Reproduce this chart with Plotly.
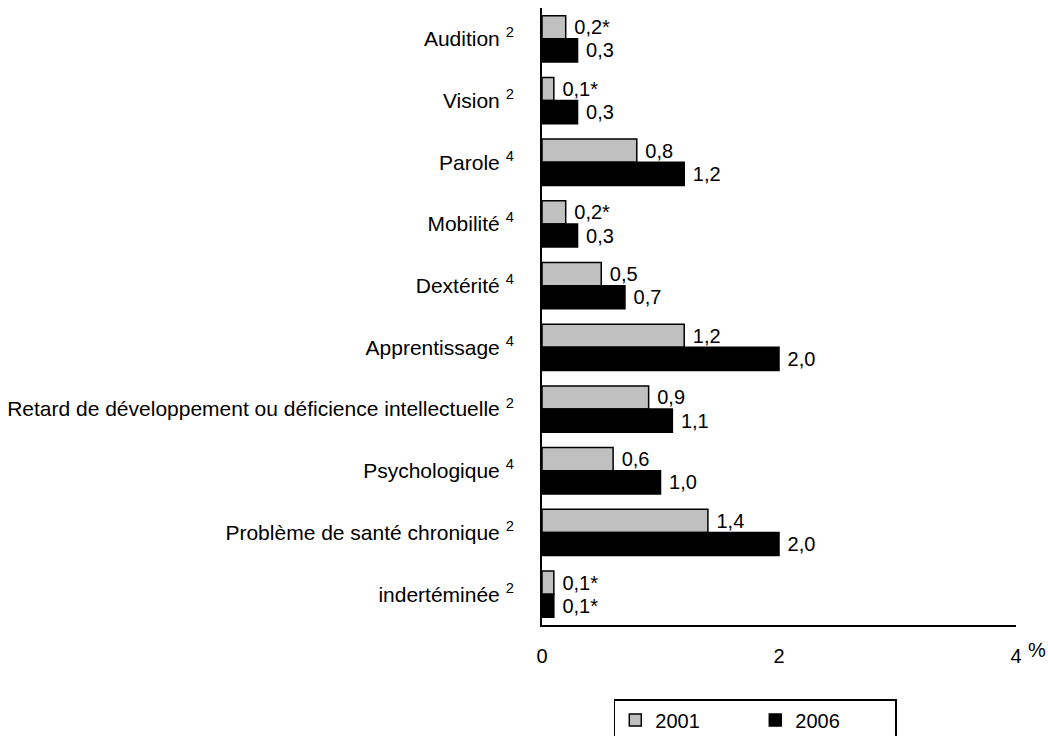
import plotly.graph_objects as go

# Catégories d'incapacité (avec renvoi en exposant)
categories = [
    "Audition <sup>2</sup>",
    "Vision <sup>2</sup>",
    "Parole <sup>4</sup>",
    "Mobilité <sup>4</sup>",
    "Dextérité <sup>4</sup>",
    "Apprentissage <sup>4</sup>",
    "Retard de développement ou déficience intellectuelle <sup>2</sup>",
    "Psychologique <sup>4</sup>",
    "Problème de santé chronique <sup>2</sup>",
    "indertéminée <sup>2</sup>",
]

# Taux (%) par année
values_2001 = [0.2, 0.1, 0.8, 0.2, 0.5, 1.2, 0.9, 0.6, 1.4, 0.1]
values_2006 = [0.3, 0.3, 1.2, 0.3, 0.7, 2.0, 1.1, 1.0, 2.0, 0.1]

# Étiquettes (astérisque = estimation à utiliser avec prudence)
labels_2001 = ["0,2*", "0,1*", "0,8", "0,2*", "0,5", "1,2", "0,9", "0,6", "1,4", "0,1*"]
labels_2006 = ["0,3", "0,3", "1,2", "0,3", "0,7", "2,0", "1,1", "1,0", "2,0", "0,1*"]

x_ticks = [0, 2, 4]

FONT = "Liberation Sans, Arial, sans-serif"
FS = 20

fig = go.Figure()
fig.add_trace(go.Bar(
    name="2001", y=categories, x=values_2001, orientation="h",
    marker=dict(color="#c0c0c0", line=dict(color="black", width=1.5)),
    text=labels_2001, texttemplate=" %{text}", textposition="outside",
    cliponaxis=False,
    textfont=dict(size=FS, color="black", family=FONT),
))
fig.add_trace(go.Bar(
    name="2006", y=categories, x=values_2006, orientation="h",
    marker=dict(color="black", line=dict(color="black", width=1.5)),
    text=labels_2006, texttemplate=" %{text}", textposition="outside",
    cliponaxis=False,
    textfont=dict(size=FS, color="black", family=FONT),
))

fig.update_layout(
    width=1048, height=736,
    margin=dict(l=542, r=32, t=8, b=111, autoexpand=False),
    paper_bgcolor="white", plot_bgcolor="white",
    font=dict(family=FONT, size=FS, color="black"),
    barmode="group", bargap=0.25, bargroupgap=0,
    showlegend=True,
    legend=dict(
        orientation="h", x=0.45, xanchor="center", y=-0.12, yanchor="top",
        bordercolor="black", borderwidth=1.5, bgcolor="white",
        font=dict(size=FS, family=FONT), entrywidth=95,
    ),
    xaxis=dict(
        range=[0, 4], tickvals=x_ticks, ticktext=[str(v) for v in x_ticks],
        showgrid=False, zeroline=False, showline=True, linecolor="black",
        linewidth=2, ticks="", ticklabelstandoff=12,
        tickfont=dict(size=FS), automargin=False,
    ),
    yaxis=dict(
        autorange="reversed", showgrid=False, showline=True,
        linecolor="black", linewidth=2, ticks="", ticklabelstandoff=22,
        tickfont=dict(size=21), automargin=False,
    ),
)

fig.add_annotation(
    text="%", xref="paper", yref="paper", x=1.022, y=-0.041,
    xanchor="left", yanchor="middle", showarrow=False,
    font=dict(size=FS, family=FONT),
)

fig.write_html("out.html")
